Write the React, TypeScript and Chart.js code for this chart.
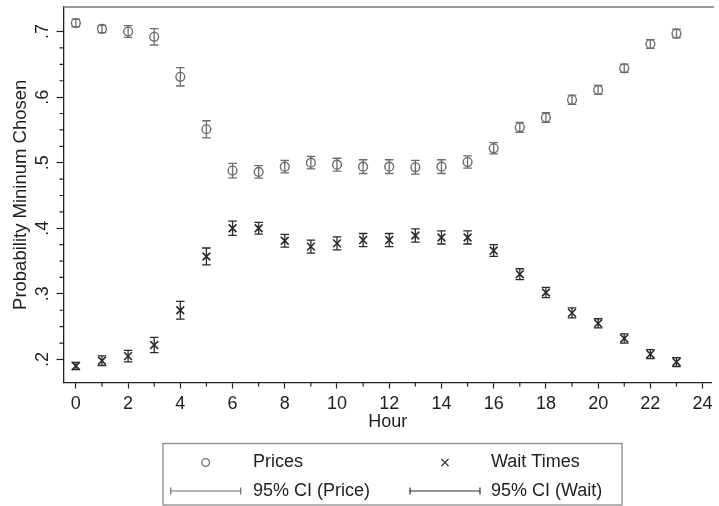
import React, { useEffect, useRef } from 'react';
import { Chart, registerables } from 'chart.js';

Chart.register(...registerables);

// ---- data ----
const hours = [0, 1, 2, 3, 4, 5, 6, 7, 8, 9, 10, 11, 12, 13, 14, 15, 16, 17, 18, 19, 20, 21, 22, 23];
const priceMean = [0.713, 0.704, 0.700, 0.692, 0.631, 0.551, 0.488, 0.486, 0.494, 0.500, 0.497, 0.494, 0.494, 0.493, 0.494, 0.501, 0.522, 0.554, 0.569, 0.596, 0.611, 0.644, 0.681, 0.697];
const priceHalfCI = [0.006, 0.0055, 0.009, 0.0125, 0.014, 0.013, 0.011, 0.0095, 0.0095, 0.0095, 0.0098, 0.0105, 0.0105, 0.0105, 0.0105, 0.0093, 0.0086, 0.0076, 0.0073, 0.007, 0.0068, 0.0063, 0.0066, 0.0066];
const waitMean = [0.190, 0.198, 0.205, 0.222, 0.275, 0.357, 0.400, 0.400, 0.381, 0.372, 0.377, 0.382, 0.382, 0.389, 0.386, 0.386, 0.366, 0.330, 0.302, 0.271, 0.255, 0.232, 0.208, 0.196];
const waitHalfCI = [0.0055, 0.0073, 0.0088, 0.0116, 0.0134, 0.0129, 0.0109, 0.009, 0.0096, 0.0098, 0.01, 0.01, 0.01, 0.01, 0.01, 0.01, 0.009, 0.0083, 0.0078, 0.0076, 0.007, 0.007, 0.0068, 0.0068];
const xTicks = [0, 2, 4, 6, 8, 10, 12, 14, 16, 18, 20, 22, 24];
const xMinorTicks = [1, 3, 5, 7, 9, 11, 13, 15, 17, 19, 21, 23];
const yTicks = [0.2, 0.3, 0.4, 0.5, 0.6, 0.7];
const yMinorTicks = [0.225, 0.25, 0.275, 0.325, 0.35, 0.375, 0.425, 0.45, 0.475, 0.525, 0.55, 0.575, 0.625, 0.65, 0.675];
const seriesLabels = ['Prices', 'Wait Times'];
const ciLabels = ['95% CI (Price)', '95% CI (Wait)'];
const xTitle = 'Hour';
const yTitle = 'Probability Mininum Chosen';

const FONT = "'Liberation Sans', Arial, Helvetica, sans-serif";
const PRICE_COLOR = '#6c6c6c';
const WAIT_COLOR = '#2a2a2a';
const TEXT_COLOR = '#1e1e1e';
const AXIS_COLOR = '#222222';

const errorBarPlugin = {
  id: 'errorBars',
  afterDatasetsDraw(chart: any) {
    const { ctx, scales } = chart;
    const xs = scales.x;
    const ys = scales.y;
    const drawSet = (means: number[], halves: number[], color: string) => {
      ctx.save();
      ctx.strokeStyle = color;
      ctx.lineWidth = 1.3;
      for (let i = 0; i < hours.length; i++) {
        const px = xs.getPixelForValue(hours[i]);
        const lo = ys.getPixelForValue(means[i] - halves[i]);
        const hi = ys.getPixelForValue(means[i] + halves[i]);
        const cw = 4.3;
        ctx.beginPath();
        ctx.moveTo(px, lo);
        ctx.lineTo(px, hi);
        ctx.moveTo(px - cw, lo);
        ctx.lineTo(px + cw, lo);
        ctx.moveTo(px - cw, hi);
        ctx.lineTo(px + cw, hi);
        ctx.stroke();
      }
      ctx.restore();
    };
    drawSet(priceMean, priceHalfCI, PRICE_COLOR);
    drawSet(waitMean, waitHalfCI, WAIT_COLOR);
  },
};

const frameAndLegendPlugin = {
  id: 'frameAndLegend',
  afterDraw(chart: any) {
    const { ctx, chartArea, scales } = chart;
    const xs = scales.x;
    const ys = scales.y;
    ctx.save();
    // top frame line of plot region
    ctx.strokeStyle = '#7a7a7a';
    ctx.lineWidth = 1.5;
    ctx.beginPath();
    ctx.moveTo(chartArea.left, chartArea.top);
    ctx.lineTo(chartArea.right + 2, chartArea.top);
    ctx.stroke();

    // minor ticks
    ctx.strokeStyle = AXIS_COLOR;
    ctx.lineWidth = 1.2;
    ctx.beginPath();
    for (const v of yMinorTicks) {
      const py = ys.getPixelForValue(v);
      ctx.moveTo(chartArea.left - 4, py);
      ctx.lineTo(chartArea.left, py);
    }
    for (const v of xMinorTicks) {
      const px = xs.getPixelForValue(v);
      ctx.moveTo(px, chartArea.bottom);
      ctx.lineTo(px, chartArea.bottom + 4);
    }
    ctx.stroke();

    // legend box
    const bx = 163, by = 443.5, bw = 459, bh = 61.5;
    ctx.strokeStyle = '#8a8a8a';
    ctx.lineWidth = 1.3;
    ctx.strokeRect(bx, by, bw, bh);

    const row1 = 462.5, row2 = 491;
    const keyL = [170.7, 410];
    const keyW = 70;
    const textX = [253, 491];
    const colors = [PRICE_COLOR, WAIT_COLOR];

    // symbol keys
    ctx.lineWidth = 1.3;
    ctx.strokeStyle = PRICE_COLOR;
    ctx.beginPath();
    ctx.arc(keyL[0] + keyW / 2, row1, 3.8, 0, Math.PI * 2);
    ctx.stroke();
    ctx.strokeStyle = WAIT_COLOR;
    const cxw = keyL[1] + keyW / 2;
    const d = 3.6;
    ctx.beginPath();
    ctx.moveTo(cxw - d, row1 - d);
    ctx.lineTo(cxw + d, row1 + d);
    ctx.moveTo(cxw + d, row1 - d);
    ctx.lineTo(cxw - d, row1 + d);
    ctx.stroke();

    // CI keys
    for (let k = 0; k < 2; k++) {
      ctx.strokeStyle = colors[k];
      ctx.lineWidth = 1.2;
      ctx.beginPath();
      ctx.moveTo(keyL[k], row2);
      ctx.lineTo(keyL[k] + keyW, row2);
      ctx.moveTo(keyL[k], row2 - 3.5);
      ctx.lineTo(keyL[k], row2 + 3.5);
      ctx.moveTo(keyL[k] + keyW, row2 - 3.5);
      ctx.lineTo(keyL[k] + keyW, row2 + 3.5);
      ctx.stroke();
    }

    ctx.fillStyle = TEXT_COLOR;
    ctx.font = `18px ${FONT}`;
    ctx.textBaseline = 'middle';
    ctx.textAlign = 'left';
    ctx.fillText(seriesLabels[0], textX[0], row1);
    ctx.fillText(seriesLabels[1], textX[1], row1);
    ctx.fillText(ciLabels[0], textX[0], row2);
    ctx.fillText(ciLabels[1], textX[1], row2);
    ctx.restore();
  },
};

export default function App() {
  const canvasRef = useRef<HTMLCanvasElement | null>(null);

  useEffect(() => {
    const canvas = canvasRef.current;
    if (!canvas) return;
    const chart = new Chart(canvas, {
      type: 'scatter',
      data: {
        datasets: [
          {
            label: seriesLabels[0],
            data: hours.map((h, i) => ({ x: h, y: priceMean[i] })),
            pointStyle: 'circle',
            pointRadius: 4.4,
            pointBorderWidth: 1.4,
            borderColor: PRICE_COLOR,
            backgroundColor: 'rgba(0,0,0,0)',
            showLine: false,
          },
          {
            label: seriesLabels[1],
            data: hours.map((h, i) => ({ x: h, y: waitMean[i] })),
            pointStyle: 'crossRot',
            pointRadius: 5.5,
            pointBorderWidth: 1.6,
            borderColor: WAIT_COLOR,
            backgroundColor: WAIT_COLOR,
            showLine: false,
          },
        ],
      },
      options: {
        animation: false,
        responsive: false,
        devicePixelRatio: 1,
        layout: { padding: { top: 4.7, right: 0, bottom: 0, left: 0 } },
        plugins: {
          legend: { display: false },
          tooltip: { enabled: false },
        },
        scales: {
          x: {
            type: 'linear',
            position: 'bottom',
            min: -0.473,
            max: 24.356,
            afterBuildTicks: (s: any) => {
              s.ticks = xTicks.map((v) => ({ value: v }));
            },
            afterFit: (s: any) => {
              s.height = 123.5;
              s.paddingLeft = 0;
              s.paddingRight = 0;
            },
            grid: {
              drawOnChartArea: false,
              drawTicks: true,
              tickLength: 6,
              tickColor: AXIS_COLOR,
              tickWidth: 1.2,
            },
            border: { display: true, color: AXIS_COLOR, width: 1.3 },
            ticks: {
              autoSkip: false,
              maxRotation: 0,
              minRotation: 0,
              padding: 4.5,
              color: TEXT_COLOR,
              font: { family: FONT, size: 18 },
              callback: (v: any) => String(v),
            },
            title: {
              display: true,
              text: xTitle,
              color: TEXT_COLOR,
              font: { family: FONT, size: 18 },
              padding: { top: 0, bottom: 73 },
            },
          },
          y: {
            type: 'linear',
            position: 'left',
            min: 0.1648,
            max: 0.7373,
            afterBuildTicks: (s: any) => {
              s.ticks = yTicks.map((v) => ({ value: v }));
            },
            afterFit: (s: any) => {
              s.width = 63.5;
              s.paddingTop = 0;
              s.paddingBottom = 0;
            },
            grid: {
              drawOnChartArea: false,
              drawTicks: true,
              tickLength: 7,
              tickColor: AXIS_COLOR,
              tickWidth: 1.2,
            },
            border: { display: true, color: AXIS_COLOR, width: 1.3 },
            ticks: {
              autoSkip: false,
              minRotation: 90,
              maxRotation: 90,
              crossAlign: 'center',
              padding: 6,
              color: TEXT_COLOR,
              font: { family: FONT, size: 18 },
              callback: (v: any) => Number(v).toFixed(1).replace(/^0/, ''),
            },
            title: {
              display: true,
              text: yTitle,
              color: TEXT_COLOR,
              font: { family: FONT, size: 18.5 },
              padding: { top: 10, bottom: 0 },
            },
          },
        },
      } as any,
      plugins: [errorBarPlugin, frameAndLegendPlugin],
    });
    return () => chart.destroy();
  }, []);

  return (
    <div style={{ position: 'absolute', left: 0, top: 0, width: 719, height: 506, background: '#ffffff' }}>
      <canvas ref={canvasRef} width={719} height={506} style={{ display: 'block', width: 719, height: 506 }} />
    </div>
  );
}
